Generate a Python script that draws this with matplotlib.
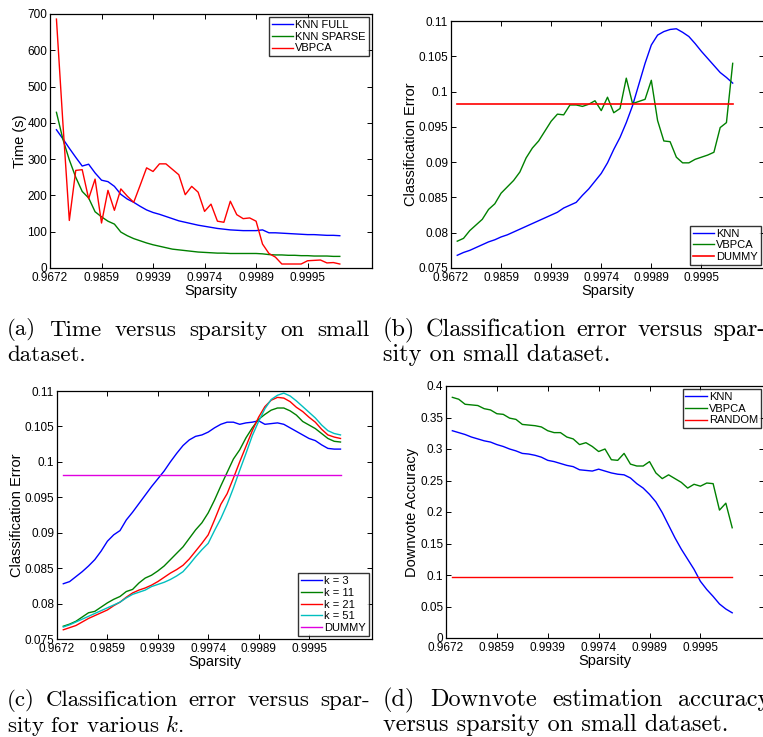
import numpy as np
import matplotlib
matplotlib.use("Agg")
import matplotlib.pyplot as plt

plt.rcParams['font.family'] = ['Liberation Sans', 'DejaVu Sans']
plt.rcParams['mathtext.fontset'] = 'cm'

W, H = 763, 737

# x axis: run index, labelled with sparsity level
sparsity_ticks = [0, 8, 16, 24, 32, 40]
sparsity_labels = ['0.9672', '0.9859', '0.9939', '0.9974', '0.9989', '0.9995']
run = np.arange(1, 46)

# (a) time versus sparsity
time_knn_full = [381, 356, 330, 305, 281, 286, 262, 242, 238, 225, 203, 190, 181, 170, 160,
                 153, 148, 142, 136, 130, 126, 122, 118, 115, 112, 109, 107, 105, 104, 103,
                 103, 103, 105, 97, 97, 96, 95, 94, 93, 92, 92, 91, 90, 90, 89]
time_knn_sparse = [429, 355, 298, 250, 211, 193, 155, 141, 129, 121, 99, 89, 81, 75, 69,
                   64, 60, 56, 52, 50, 48, 46, 44, 43, 42, 41, 41, 40, 40, 40,
                   40, 40, 39, 37, 36, 36, 35, 35, 34, 34, 33, 33, 33, 32, 32]
time_vbpca = [686, 400, 131, 269, 271, 191, 245, 124, 214, 159, 218, 198, 181, 228, 276,
              266, 287, 287, 272, 257, 202, 225, 209, 156, 176, 129, 126, 184, 147, 136,
              138, 129, 66, 40, 30, 11, 11, 11, 11, 20, 21, 22, 14, 15, 11]

# (b) classification error versus sparsity
err_knn = [0.0768, 0.0772, 0.0775, 0.0779, 0.0783, 0.0787, 0.0790, 0.0794, 0.0797, 0.0801,
           0.0805, 0.0809, 0.0813, 0.0817, 0.0821, 0.0825, 0.0829, 0.0835, 0.0839, 0.0843,
           0.0853, 0.0862, 0.0873, 0.0884, 0.0899, 0.0918, 0.0935, 0.0956, 0.0980, 0.1010,
           0.1040, 0.1066, 0.1080, 0.1085, 0.1088, 0.1089, 0.1084, 0.1078, 0.1068, 0.1057,
           0.1047, 0.1037, 0.1027, 0.1020, 0.1012]
err_vbpca = [0.0788, 0.0792, 0.0803, 0.0811, 0.0819, 0.0833, 0.0841, 0.0856, 0.0865, 0.0874,
             0.0886, 0.0906, 0.0920, 0.0930, 0.0944, 0.0958, 0.0968, 0.0967, 0.0981, 0.0981,
             0.0979, 0.0982, 0.0987, 0.0973, 0.0992, 0.0970, 0.0976, 0.1019, 0.0983, 0.0986,
             0.0989, 0.1016, 0.0959, 0.0930, 0.0929, 0.0907, 0.0899, 0.0899, 0.0904, 0.0907,
             0.0910, 0.0914, 0.0949, 0.0956, 0.1040]
err_dummy = 0.0982

# (c) classification error for various k
err_k3 = [0.0828, 0.0831, 0.0838, 0.0845, 0.0853, 0.0862, 0.0874, 0.0888, 0.0897, 0.0903,
          0.0918, 0.0929, 0.0941, 0.0953, 0.0965, 0.0976, 0.0987, 0.1000, 0.1012, 0.1023,
          0.1031, 0.1036, 0.1038, 0.1042, 0.1048, 0.1053, 0.1056, 0.1056, 0.1053, 0.1055,
          0.1056, 0.1058, 0.1053, 0.1054, 0.1055, 0.1053, 0.1048, 0.1043, 0.1038, 0.1033,
          0.1030, 0.1024, 0.1019, 0.1018, 0.1018]
err_k11 = [0.0768, 0.0771, 0.0775, 0.0781, 0.0787, 0.0789, 0.0795, 0.0801, 0.0806, 0.0810,
           0.0817, 0.0820, 0.0829, 0.0836, 0.0840, 0.0846, 0.0853, 0.0862, 0.0871, 0.0880,
           0.0892, 0.0904, 0.0914, 0.0928, 0.0946, 0.0966, 0.0985, 0.1004, 0.1017, 0.1034,
           0.1048, 0.1060, 0.1067, 0.1073, 0.1076, 0.1076, 0.1072, 0.1066, 0.1057, 0.1052,
           0.1047, 0.1040, 0.1033, 0.1029, 0.1028]
err_k21 = [0.0763, 0.0766, 0.0769, 0.0774, 0.0779, 0.0783, 0.0787, 0.0791, 0.0797, 0.0802,
           0.0809, 0.0815, 0.0819, 0.0822, 0.0826, 0.0831, 0.0837, 0.0843, 0.0848, 0.0854,
           0.0863, 0.0874, 0.0885, 0.0897, 0.0918, 0.0940, 0.0955, 0.0977, 0.1000, 0.1022,
           0.1044, 0.1063, 0.1078, 0.1087, 0.1091, 0.1090, 0.1085, 0.1077, 0.1071, 0.1063,
           0.1056, 0.1046, 0.1038, 0.1035, 0.1033]
err_k51 = [0.0767, 0.0770, 0.0774, 0.0778, 0.0782, 0.0786, 0.0790, 0.0794, 0.0798, 0.0802,
           0.0808, 0.0813, 0.0816, 0.0819, 0.0824, 0.0827, 0.0830, 0.0834, 0.0839, 0.0845,
           0.0855, 0.0866, 0.0876, 0.0885, 0.0903, 0.0920, 0.0940, 0.0963, 0.0988, 0.1012,
           0.1037, 0.1057, 0.1075, 0.1088, 0.1094, 0.1097, 0.1093, 0.1086, 0.1078, 0.1070,
           0.1062, 0.1052, 0.1044, 0.1040, 0.1038]

# (d) downvote estimation accuracy
acc_knn = [0.329, 0.326, 0.323, 0.319, 0.316, 0.313, 0.311, 0.307, 0.304, 0.300,
           0.297, 0.293, 0.292, 0.290, 0.287, 0.282, 0.280, 0.277, 0.274, 0.272,
           0.267, 0.266, 0.265, 0.268, 0.265, 0.262, 0.260, 0.259, 0.254, 0.245,
           0.238, 0.228, 0.216, 0.199, 0.179, 0.159, 0.141, 0.125, 0.109, 0.090,
           0.077, 0.066, 0.054, 0.046, 0.040]
acc_vbpca = [0.382, 0.379, 0.371, 0.370, 0.369, 0.364, 0.362, 0.356, 0.355, 0.349,
             0.347, 0.339, 0.338, 0.337, 0.335, 0.329, 0.326, 0.326, 0.319, 0.316,
             0.307, 0.310, 0.304, 0.296, 0.300, 0.283, 0.282, 0.293, 0.276, 0.273,
             0.273, 0.280, 0.262, 0.253, 0.259, 0.253, 0.247, 0.238, 0.244, 0.241,
             0.246, 0.245, 0.203, 0.214, 0.175]
acc_random = 0.097

err_ticks = [0.075, 0.08, 0.085, 0.09, 0.095, 0.1, 0.105, 0.11]
err_labels = ['0.075', '0.08', '0.085', '0.09', '0.095', '0.1', '0.105', '0.11']
time_ticks = [0, 100, 200, 300, 400, 500, 600, 700]
acc_ticks = [0, 0.05, 0.1, 0.15, 0.2, 0.25, 0.3, 0.35, 0.4]
acc_labels = ['0', '0.05', '0.1', '0.15', '0.2', '0.25', '0.3', '0.35', '0.4']

BLUE, GREEN, RED = (0, 0, 1), (0, 0.5, 0), (1, 0, 0)
CYAN, MAGENTA = (0, 0.75, 0.75), (0.88, 0, 0.88)


def panel(left, top, right, bottom):
    return fig.add_axes([left / W, 1 - bottom / H, (right - left) / W, (bottom - top) / H])


def style(ax, yticks, ylabels, ylim, ylabel):
    ax.set_xlim(0, 50)
    ax.set_xticks(sparsity_ticks)
    ax.set_xticklabels(sparsity_labels)
    ax.set_ylim(*ylim)
    ax.set_yticks(yticks)
    ax.set_yticklabels(ylabels)
    ax.tick_params(direction='in', top=True, right=True, length=3.5, width=0.7,
                   labelsize=8.5, pad=2, colors='black')
    ax.tick_params(axis='x', pad=3)
    for s in ax.spines.values():
        s.set_linewidth(0.9)
    ax.set_xlabel('Sparsity', fontsize=10.5, labelpad=0)
    ax.set_ylabel(ylabel, fontsize=10.5, labelpad=0.5)


def legend(ax, loc):
    leg = ax.legend(loc=loc, fontsize=8, frameon=True, fancybox=False, handlelength=1.9,
                    handletextpad=0.2, borderpad=0.25, labelspacing=0.15, borderaxespad=0.3)
    leg.get_frame().set_edgecolor('black')
    leg.get_frame().set_linewidth(1.0)


def justified(x0, x1, y, text, size):
    # spread the words of a caption line across a fixed width, like a justified LaTeX line
    words = text.split(' ')
    r = fig.canvas.get_renderer()
    arts = [fig.text(0, 1 - y / H, w, fontsize=size, family='cmr10', va='center')
            for w in words]
    widths = [a.get_window_extent(r).width for a in arts]
    gap = ((x1 - x0) - sum(widths)) / (len(words) - 1)
    x = x0
    for a, w in zip(arts, widths):
        a.set_x(x / W)
        x += w + gap


fig = plt.figure(figsize=(W / 100, H / 100), dpi=100)

lw = 1.0

ax = panel(50, 14, 372, 268)
ax.plot(run, time_knn_full, color=BLUE, lw=lw, label='KNN FULL')
ax.plot(run, time_knn_sparse, color=GREEN, lw=lw, label='KNN SPARSE')
ax.plot(run, time_vbpca, color=RED, lw=lw, label='VBPCA')
style(ax, time_ticks, [str(t) for t in time_ticks], (0, 700), 'Time (s)')
legend(ax, 'upper right')

ax = panel(451, 21, 764, 268)
ax.plot(run, err_knn, color=BLUE, lw=lw, label='KNN')
ax.plot(run, err_vbpca, color=GREEN, lw=lw, label='VBPCA')
ax.plot(run, np.full(len(run), err_dummy), color=RED, lw=1.2, label='DUMMY')
style(ax, err_ticks, err_labels, (0.075, 0.11), 'Classification Error')
legend(ax, 'lower right')

ax = panel(57, 391, 372, 639)
ax.plot(run, err_k3, color=BLUE, lw=lw, label='k = 3')
ax.plot(run, err_k11, color=GREEN, lw=lw, label='k = 11')
ax.plot(run, err_k21, color=RED, lw=lw, label='k = 21')
ax.plot(run, err_k51, color=CYAN, lw=lw, label='k = 51')
ax.plot(run, np.full(len(run), err_dummy), color=MAGENTA, lw=lw, label='DUMMY')
style(ax, err_ticks, err_labels, (0.075, 0.11), 'Classification Error')
legend(ax, 'lower right')

ax = panel(446, 386, 764, 638)
ax.plot(run, acc_knn, color=BLUE, lw=lw, label='KNN')
ax.plot(run, acc_vbpca, color=GREEN, lw=lw, label='VBPCA')
ax.plot(run, np.full(len(run), acc_random), color=RED, lw=lw, label='RANDOM')
style(ax, acc_ticks, acc_labels, (0, 0.4), 'Downvote Accuracy')
legend(ax, 'upper right')

# captions (first lines justified, second lines ragged)
cap = dict(family='cmr10', va='center', ha='left')
justified(7, 370, 330, '(a) Time versus sparsity on small', 16.5)
fig.text(7 / W, 1 - 355 / H, 'dataset.', fontsize=16.5, **cap)
justified(383, 766, 330, '(b) Classification error versus spar-', 17.5)
fig.text(383 / W, 1 - 355 / H, 'sity on small dataset.', fontsize=17.5, **cap)
justified(7, 370, 700, '(c) Classification error versus spar-', 16.5)
fig.text(7 / W, 1 - 725 / H, 'sity for various $k$.', fontsize=16.5, **cap)
justified(383, 770, 700, '(d) Downvote estimation accuracy', 17.5)
fig.text(383 / W, 1 - 725 / H, 'versus sparsity on small dataset.', fontsize=17.5, **cap)

fig.savefig('out.png', dpi=100)
